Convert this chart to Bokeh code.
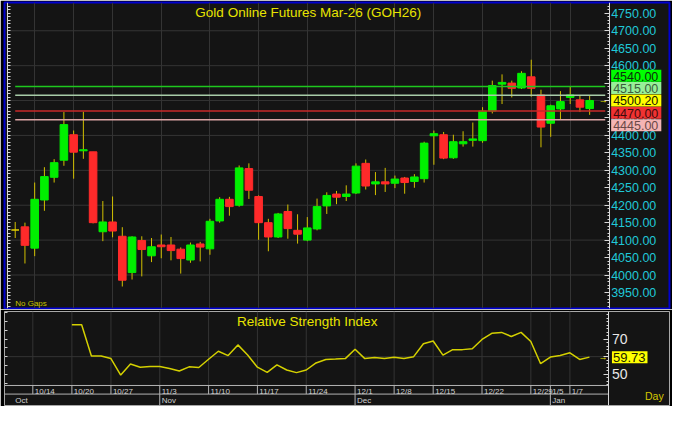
import numpy as np
from bokeh.plotting import figure
from bokeh.layouts import column
from bokeh.models import (Range1d, LinearAxis, FixedTicker, NumeralTickFormatter,
                          Label, Grid, ColumnDataSource)
from bokeh.core.properties import value
from bokeh.embed import file_html
from bokeh.resources import INLINE

# ---------------- data (daily bars, GOH26) ----------------
opens = [4129, 4138, 4077, 4215, 4280, 4329, 4402, 4356, 4353, 4124,
         4152, 4111, 4007, 4099, 4055, 4086, 4086, 4074, 4043, 4089,
         4075, 4155, 4217, 4200, 4305, 4225, 4150, 4109, 4182, 4128,
         4100, 4132, 4198, 4232, 4225, 4235, 4320, 4261, 4267, 4263,
         4278, 4268, 4276, 4399, 4402, 4336, 4376, 4386, 4385, 4470,
         4547, 4550, 4536, 4568, 4516, 4435, 4476, 4509, 4502, 4477]
highs = [4152, 4150, 4265, 4309, 4332, 4467, 4414, 4468, 4353, 4212,
         4225, 4137, 4111, 4111, 4106, 4116, 4109, 4079, 4093, 4095,
         4161, 4223, 4224, 4314, 4320, 4228, 4161, 4178, 4202, 4174,
         4166, 4219, 4237, 4241, 4257, 4320, 4331, 4295, 4307, 4285,
         4281, 4289, 4382, 4414, 4410, 4402, 4412, 4437, 4481, 4557,
         4575, 4557, 4584, 4617, 4531, 4488, 4527, 4541, 4515, 4515]
lows = [4106, 4033, 4054, 4184, 4265, 4313, 4276, 4333, 4148, 4097,
        4108, 3967, 3987, 3996, 4037, 4048, 4042, 4004, 4035, 4039,
        4058, 4150, 4170, 4196, 4218, 4101, 4068, 4106, 4104, 4090,
        4097, 4128, 4175, 4203, 4212, 4232, 4245, 4229, 4238, 4249,
        4233, 4250, 4265, 4316, 4332, 4333, 4368, 4368, 4379, 4463,
        4490, 4509, 4533, 4511, 4366, 4396, 4447, 4490, 4467, 4459]
closes = [4129, 4085, 4217, 4282, 4322, 4431, 4352, 4359, 4150, 4152,
          4126, 3985, 4109, 4073, 4081, 4081, 4070, 4047, 4086, 4080,
          4154, 4217, 4196, 4307, 4243, 4150, 4109, 4175, 4133, 4117,
          4135, 4196, 4228, 4223, 4232, 4312, 4255, 4267, 4261, 4275,
          4265, 4281, 4378, 4405, 4335, 4382, 4382, 4390, 4470, 4543,
          4552, 4535, 4578, 4535, 4424, 4485, 4497, 4516, 4481, 4500.2]

rsi_start = 6
rsi_values = [78.2, 78.2, 60.4, 60.4, 58.9, 49.5, 55.8, 54.0, 54.4, 54.4,
              53.3, 51.8, 54.2, 53.8, 58.5, 63.1, 60.6, 66.7, 60.9, 54.0,
              51.1, 55.3, 52.4, 50.9, 52.4, 56.4, 58.4, 58.6, 58.9, 64.2,
              58.9, 59.5, 58.9, 59.6, 58.9, 60.0, 67.3, 68.9, 60.9, 64.0,
              64.0, 64.5, 69.8, 73.3, 73.8, 71.5, 73.8, 68.6, 56.0, 59.8,
              60.7, 62.2, 58.4, 59.73]

week_labels = ["10/14", "10/20", "10/27", "11/3", "11/10", "11/17", "11/24",
               "12/1", "12/8", "12/15", "12/22", "12/29", "1/5", "1/7"]
week_pos = [2, 6, 10, 15, 20, 25, 30, 35, 39, 43, 48, 53, 55, 57]
month_labels = ["Oct", "Nov", "Dec", "Jan"]
month_pos = [0, 15, 35, 55]

levels = [4540.00, 4515.00, 4470.00, 4445.00]
level_line_colors = ["#1ec81e", "#a8cca8", "#c82828", "#dca4a4"]
level_box_colors = ["#00ff00", "#98f098", "#f03232", "#f4b4b4"]
level_text_colors = ["#0c300c", "#3c5c3c", "#3c0c0c", "#6a4848"]
last_price = closes[-1]
rsi_last = rsi_values[-1]

price_ticks = list(range(3950, 4751, 50))
price_minor = list(range(3910, 4779, 10))
price_grid = list(range(4000, 4701, 100))
rsi_ticks = [50, 60, 70]

title_text = "Gold Online Futures Mar-26 (GOH26)"
rsi_title = "Relative Strength Index"

# ---------------- styling / layout ----------------
W = 672
TOP_H = 309
RSI_H = 97
BG = "#141414"
GRID = "#343434"
FONT = "Liberation Sans"
CYAN = "#20c8d8"
YELLOW = "#e8e400"
WICK = "#d2c000"
UP = "#00f000"
DOWN = "#ff2a2a"
DOJI = "#e6d200"
SEP = "#b4b4b4"
AXIS = "#d8d8d8"
BOX_PAD = dict(left=2, right=3, top=2, bottom=1)

n = len(closes)
idx = np.arange(n)
plot_left, axis_x = -0.8, 61.0      # left edge of chart area / price-axis position (bar units)
xr_lo, xr_hi = -1.1, 67.2           # full panel incl. axis label strip

# ================= price panel =================
p = figure(width=W, height=TOP_H, x_range=Range1d(xr_lo, xr_hi), y_range=Range1d(3904, 4781),
           output_backend="svg", toolbar_location=None,
           x_axis_location=None, y_axis_location=None,
           min_border_left=2, min_border_right=3, min_border_top=2, min_border_bottom=1,
           background_fill_color=BG, border_fill_color="#000000",
           outline_line_color="#0000d0", outline_line_width=2)
p.grid.visible = False
p.add_layout(Grid(dimension=0, ticker=FixedTicker(ticks=week_pos), grid_line_color=GRID))
p.segment(x0=[plot_left] * len(price_grid), y0=price_grid, x1=[axis_x] * len(price_grid), y1=price_grid,
          line_color=GRID, line_width=1)

o = np.array(opens, float)
c = np.array(closes, float)
colors = [UP if cc > oo else DOWN if cc < oo else DOJI for oo, cc in zip(o, c)]
src = ColumnDataSource(dict(x=idx, h=highs, l=lows, top=np.maximum(o, c), bottom=np.minimum(o, c), color=colors))
p.segment(x0="x", y0="l", x1="x", y1="h", source=src, line_color=WICK, line_width=1)
p.vbar(x="x", width=0.78, top="top", bottom="bottom", source=src,
       fill_color="color", line_color="color", line_width=1)

for lv, col in zip(levels, level_line_colors):
    p.segment(x0=[0], y0=[lv], x1=[n + 0.6], y1=[lv], line_color=col, line_width=1.5)

p.text(x=[n + 0.4], y=[last_price], text=["→"], text_color=YELLOW, text_font=value(FONT),
       text_font_size="9px", text_align="center", text_baseline="middle")

p.add_layout(Label(x=(plot_left + axis_x) / 2, y=4753, text=title_text, text_color=YELLOW,
                   text_font=FONT, text_font_size="13.5px", text_align="center", text_baseline="middle"))
p.add_layout(Label(x=0, y=3918, text="No Gaps", text_color="#c8c400",
                   text_font=FONT, text_font_size="8px", text_align="left", text_baseline="middle"))

lax = LinearAxis(fixed_location=plot_left, ticker=FixedTicker(ticks=[], minor_ticks=price_minor),
                 axis_line_color=AXIS, minor_tick_line_color=AXIS,
                 minor_tick_in=3, minor_tick_out=0, major_tick_in=0, major_tick_out=0,
                 major_label_standoff=0)
p.add_layout(lax, "left")

yax = LinearAxis(fixed_location=axis_x,
                 ticker=FixedTicker(ticks=price_ticks, minor_ticks=price_minor),
                 formatter=NumeralTickFormatter(format="0.00"),
                 axis_line_color=AXIS, major_tick_line_color=AXIS, minor_tick_line_color=AXIS,
                 major_tick_in=5, major_tick_out=0, minor_tick_in=2, minor_tick_out=0,
                 major_label_text_color=CYAN, major_label_text_font=FONT,
                 major_label_text_font_size="12.5px", major_label_standoff=2)
p.add_layout(yax, "right")

# stacked price-level boxes on the axis
slot = 35.5
above = sorted([lv for lv in levels if lv > last_price])
below = sorted([lv for lv in levels if lv < last_price], reverse=True)
box_pos = {}
for k, lv in enumerate(above):
    box_pos[lv] = last_price + (k + 1) * slot
for k, lv in enumerate(below):
    box_pos[lv] = last_price - (k + 1) * slot
style = {lv: (bc, tc) for lv, bc, tc in zip(levels, level_box_colors, level_text_colors)}
for lv in sorted(above, reverse=True) + sorted(below):
    bc, tc = style[lv]
    p.add_layout(Label(x=axis_x, x_offset=2, y=box_pos[lv], text=f"{lv:.2f}", text_color=tc,
                       text_font=FONT, text_font_size="12.5px", text_align="left", text_baseline="middle",
                       background_fill_color=bc, padding=BOX_PAD))
p.add_layout(Label(x=axis_x, x_offset=2, y=last_price, text=f"{last_price:.2f}", text_color="#202000",
                   text_font=FONT, text_font_size="12.5px", text_align="left", text_baseline="middle",
                   background_fill_color="#ffff00", padding=BOX_PAD))

# ================= RSI panel =================
r_lo, r_hi = 32.2, 85.7
RSI_FLOOR = 43.6
ROW_SPLIT = 38.7
DATE_ROW_Y = 40.3
MONTH_ROW_Y = 35.3
rsi_left = -0.9

q = figure(width=W, height=RSI_H, x_range=Range1d(rsi_left, xr_hi), y_range=Range1d(r_lo, r_hi),
           output_backend="svg", toolbar_location=None,
           x_axis_location=None, y_axis_location=None,
           min_border_left=4, min_border_right=3, min_border_top=2, min_border_bottom=1,
           background_fill_color=BG, border_fill_color="#000000",
           outline_line_color="#a8a8a8", outline_line_width=1)
q.grid.visible = False

q.segment(x0=week_pos, y0=[RSI_FLOOR] * len(week_pos), x1=week_pos, y1=[r_hi] * len(week_pos),
          line_color=GRID, line_width=1)
q.segment(x0=[rsi_left], y0=[60], x1=[axis_x], y1=[60], line_color=GRID, line_width=1)

rsi_arr = np.full(n, np.nan)
rsi_arr[rsi_start:rsi_start + len(rsi_values)] = rsi_values
q.line(idx, rsi_arr, line_color="#d4d000", line_width=1.5)
q.text(x=[n + 0.4], y=[rsi_last], text=["→"], text_color=YELLOW, text_font=value(FONT),
       text_font_size="9px", text_align="center", text_baseline="middle")

q.add_layout(Label(x=(plot_left + axis_x) / 2, y=80.0, text=rsi_title, text_color=YELLOW,
                   text_font=FONT, text_font_size="13.5px", text_align="center", text_baseline="middle"))

# date rows
q.segment(x0=[rsi_left, rsi_left], y0=[RSI_FLOOR, ROW_SPLIT], x1=[axis_x, axis_x], y1=[RSI_FLOOR, ROW_SPLIT],
          line_color=SEP, line_width=1)
q.segment(x0=week_pos, y0=[ROW_SPLIT] * len(week_pos), x1=week_pos, y1=[RSI_FLOOR] * len(week_pos),
          line_color=SEP, line_width=1)
mp = month_pos[1:]
q.segment(x0=mp, y0=[r_lo] * len(mp), x1=mp, y1=[ROW_SPLIT] * len(mp), line_color=SEP, line_width=1)
q.text(x=np.array(week_pos) + 0.2, y=[DATE_ROW_Y] * len(week_pos), text=week_labels,
       text_color="#d0d0d0", text_font=value(FONT), text_font_size="8px",
       text_align="left", text_baseline="middle")
q.text(x=np.array(month_pos) + 0.2, y=[MONTH_ROW_Y] * len(month_pos), text=month_labels,
       text_color="#d0d0d0", text_font=value(FONT), text_font_size="8px",
       text_align="left", text_baseline="middle")

rlax = LinearAxis(fixed_location=rsi_left, ticker=FixedTicker(ticks=[], minor_ticks=list(range(45, 86, 5))),
                  axis_line_color=None, minor_tick_line_color="#d0d0d0",
                  minor_tick_in=3, minor_tick_out=0, major_tick_in=0, major_tick_out=0,
                  major_label_standoff=0)
q.add_layout(rlax, "left")

rax = LinearAxis(fixed_location=axis_x,
                 ticker=FixedTicker(ticks=rsi_ticks, minor_ticks=list(range(44, 86, 2))),
                 axis_line_color=AXIS, major_tick_line_color=AXIS, minor_tick_line_color=AXIS,
                 major_tick_in=5, major_tick_out=0, minor_tick_in=2, minor_tick_out=0,
                 major_label_text_color="#e8e8e8", major_label_text_font=FONT,
                 major_label_text_font_size="14px", major_label_standoff=3)
q.add_layout(rax, "right")

q.add_layout(Label(x=axis_x, x_offset=3, y=rsi_last, text=f"{rsi_last:.2f}", text_color="#202000",
                   text_font=FONT, text_font_size="13px", text_align="left", text_baseline="middle",
                   background_fill_color="#ffff00", padding=dict(left=1, right=2, top=2, bottom=1)))
q.add_layout(Label(x=axis_x, x_offset=36, y=37.6, text="Day", text_color="#d4c800",
                   text_font=FONT, text_font_size="10.5px", text_align="left", text_baseline="middle"))

layout = column(p, q, spacing=0)
open("out.html", "w").write(file_html(layout, INLINE))
